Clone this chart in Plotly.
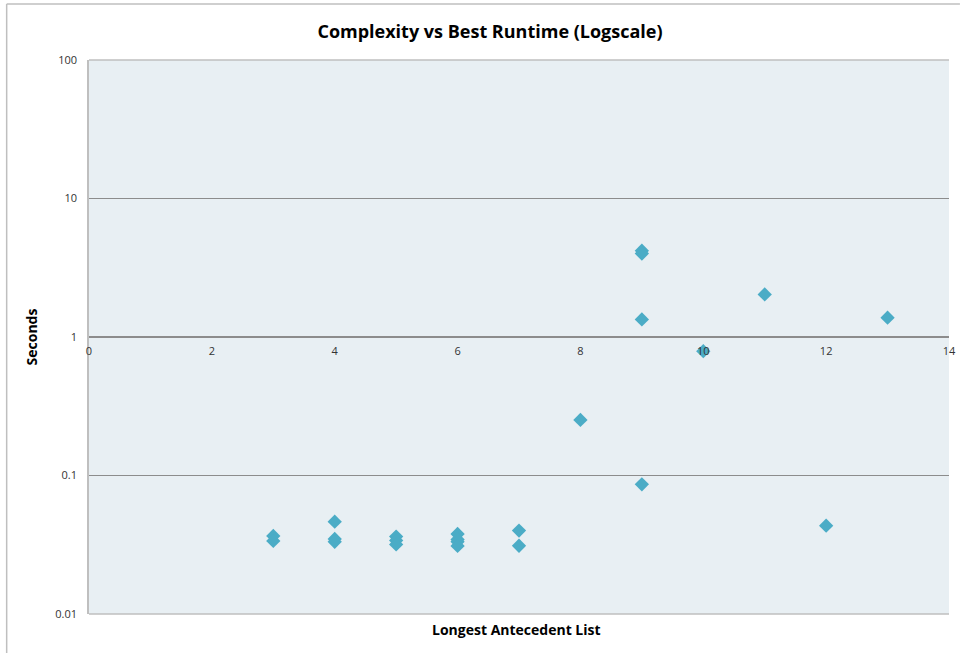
import plotly.graph_objects as go

# Data
antecedent_len = [3, 3, 4, 4, 4, 5, 5, 5, 6, 6, 6, 6, 7, 7, 8, 9, 9, 9, 9, 10, 11, 12, 13]
seconds = [0.0366, 0.0337, 0.0464, 0.0348, 0.0332, 0.0362, 0.0340, 0.0318, 0.0378, 0.0345,
           0.0333, 0.0310, 0.0400, 0.0311, 0.252, 4.2, 4.0, 1.34, 0.0864, 0.79, 2.03, 0.0434, 1.38]

x_ticks = [0, 2, 4, 6, 8, 10, 12, 14]
y_ticks = [0.01, 0.1, 1, 10, 100]
y_tick_labels = ["0.01", "0.1", "1", "10", "100"]

W, H = 967, 653
L, R, T, B = 89, 11, 60, 39

fig = go.Figure()
fig.add_trace(go.Scatter(
    x=antecedent_len, y=seconds, mode="markers",
    marker=dict(symbol="diamond", size=11, color="#4BACC6"),
    showlegend=False, hoverinfo="x+y",
))

font_family = "Open Sans, Liberation Sans, sans-serif"
tick_col = "#333333"

fig.update_layout(
    width=W, height=H,
    margin=dict(l=L, r=R, t=T, b=B),
    paper_bgcolor="white",
    plot_bgcolor="#E8EFF3",
    font=dict(family=font_family, color=tick_col, size=11),
    title=dict(text="<b>Complexity vs Best Runtime (Logscale)</b>",
               x=(490) / W, xanchor="center", y=1 - 32 / H, yanchor="middle",
               font=dict(size=18, color="black", family=font_family)),
    xaxis=dict(range=[0, 14], tickvals=x_ticks, ticktext=[str(v) for v in x_ticks],
               showgrid=False, zeroline=False, anchor="free", position=0.5,
               showline=True, linecolor="#8C8C8C", linewidth=1.5,
               ticks="", ticklabelstandoff=4, tickfont=dict(size=11, color=tick_col)),
    yaxis=dict(type="log", range=[-2, 2], tickvals=y_ticks, ticktext=y_tick_labels,
               showgrid=True, gridcolor="#8C8C8C", gridwidth=1,
               zeroline=False, showline=True, linecolor="#BFBFBF", linewidth=1.5,
               ticks="", ticklabelstandoff=8, tickfont=dict(size=11, color=tick_col),
               title=dict(text="<b>Seconds</b>", standoff=14,
                          font=dict(size=14, color="black", family=font_family))),
)

# plot area border (top, bottom)
fig.add_shape(type="line", xref="paper", yref="paper", x0=0, x1=1, y0=1, y1=1,
              line=dict(color="#BFBFBF", width=1.5))
fig.add_shape(type="line", xref="paper", yref="paper", x0=0, x1=1, y0=0, y1=0,
              line=dict(color="#BFBFBF", width=1.5))

# outer chart frame (top and left edges)
pw = W - L - R
ph = H - T - B
fx0 = (6 - L) / pw
fx1 = (W - L) / pw
fy_top = 1 + (T - 4) / ph
fy_bot = -(B) / ph
fig.add_shape(type="line", xref="paper", yref="paper", x0=fx0, x1=fx1, y0=fy_top, y1=fy_top,
              line=dict(color="#BFBFBF", width=1.5))
fig.add_shape(type="line", xref="paper", yref="paper", x0=fx0, x1=fx0, y0=fy_top, y1=fy_bot,
              line=dict(color="#BFBFBF", width=1.5))

# x axis title at the bottom
fig.add_annotation(text="<b>Longest Antecedent List</b>", xref="paper", yref="paper",
                   x=(520 - L) / pw, y=-(629 - (H - B)) / ph, yanchor="middle",
                   xanchor="center", showarrow=False,
                   font=dict(size=14, color="black", family=font_family))

fig.write_html("out.html", config={"displayModeBar": False},
               post_script="document.body.style.margin='0';")
